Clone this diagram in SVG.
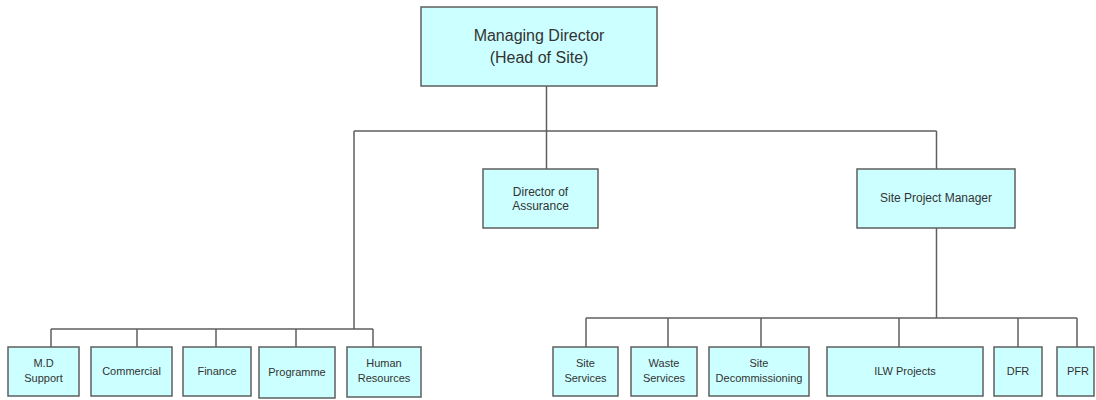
<svg xmlns="http://www.w3.org/2000/svg" width="1096" height="400" viewBox="0 0 1096 400">
<style>
.box{fill:#ccffff;stroke:#5f5f5f;stroke-width:1.5}
.ln{fill:none;stroke:#5f5f5f;stroke-width:1.5}
text{font-family:"Liberation Sans",Arial,sans-serif;fill:#333;text-anchor:middle}
.t16{font-size:16px}
.t12{font-size:12px}
.t11{font-size:11px}
</style>
<rect width="1096" height="400" fill="#fff"/>
<g id="connectors">
<path class="ln" d="M546.5 86V131M354 131H936.5M546.5 131V169M936.5 131V169"/>
<path class="ln" d="M354 131V329M51 329H373M51 329V347M137 329V347M216 329V347M296 329V347M373 329V347"/>
<path class="ln" d="M936.5 228V318M586 318H1077M586 318V347M668 318V347M761 318V347M899 318V347M1018 318V347M1077 318V347"/>
</g>
<g id="md"><rect class="box" x="421" y="7" width="236" height="79"/><text class="t16" x="539" y="41">Managing Director</text><text class="t16" x="539" y="63">(Head of Site)</text></g>
<g id="doa"><rect class="box" x="483" y="169" width="115" height="59"/><text class="t12" x="540.5" y="196">Director of</text><text class="t12" x="540.5" y="210">Assurance</text></g>
<g id="spm"><rect class="box" x="857" y="169" width="158" height="59"/><text class="t12" x="936" y="202">Site Project Manager</text></g>
<g id="mds"><rect class="box" x="8" y="347" width="71" height="49"/><text class="t11" x="43.5" y="367">M.D</text><text class="t11" x="43.5" y="382">Support</text></g>
<g id="commercial"><rect class="box" x="91" y="347" width="81" height="49"/><text class="t11" x="131.5" y="375">Commercial</text></g>
<g id="finance"><rect class="box" x="183" y="347" width="68" height="49"/><text class="t11" x="217" y="375">Finance</text></g>
<g id="programme"><rect class="box" x="259" y="347" width="76" height="51"/><text class="t11" x="297" y="376">Programme</text></g>
<g id="hr"><rect class="box" x="347" y="347" width="74" height="50"/><text class="t11" x="384" y="367">Human</text><text class="t11" x="384" y="382">Resources</text></g>
<g id="siteservices"><rect class="box" x="553" y="347" width="65" height="49"/><text class="t11" x="585.5" y="367">Site</text><text class="t11" x="585.5" y="382">Services</text></g>
<g id="wasteservices"><rect class="box" x="631" y="347" width="66" height="49"/><text class="t11" x="664" y="367">Waste</text><text class="t11" x="664" y="382">Services</text></g>
<g id="sitedecom"><rect class="box" x="709" y="347" width="100" height="49"/><text class="t11" x="759" y="367">Site</text><text class="t11" x="759" y="382">Decommissioning</text></g>
<g id="ilw"><rect class="box" x="827" y="347" width="156" height="49"/><text class="t11" x="905" y="375">ILW Projects</text></g>
<g id="dfr"><rect class="box" x="994" y="347" width="48" height="49"/><text class="t11" x="1018" y="375">DFR</text></g>
<g id="pfr"><rect class="box" x="1057" y="347" width="37" height="49"/><text class="t11" x="1078" y="375">PFR</text></g>
</svg>
